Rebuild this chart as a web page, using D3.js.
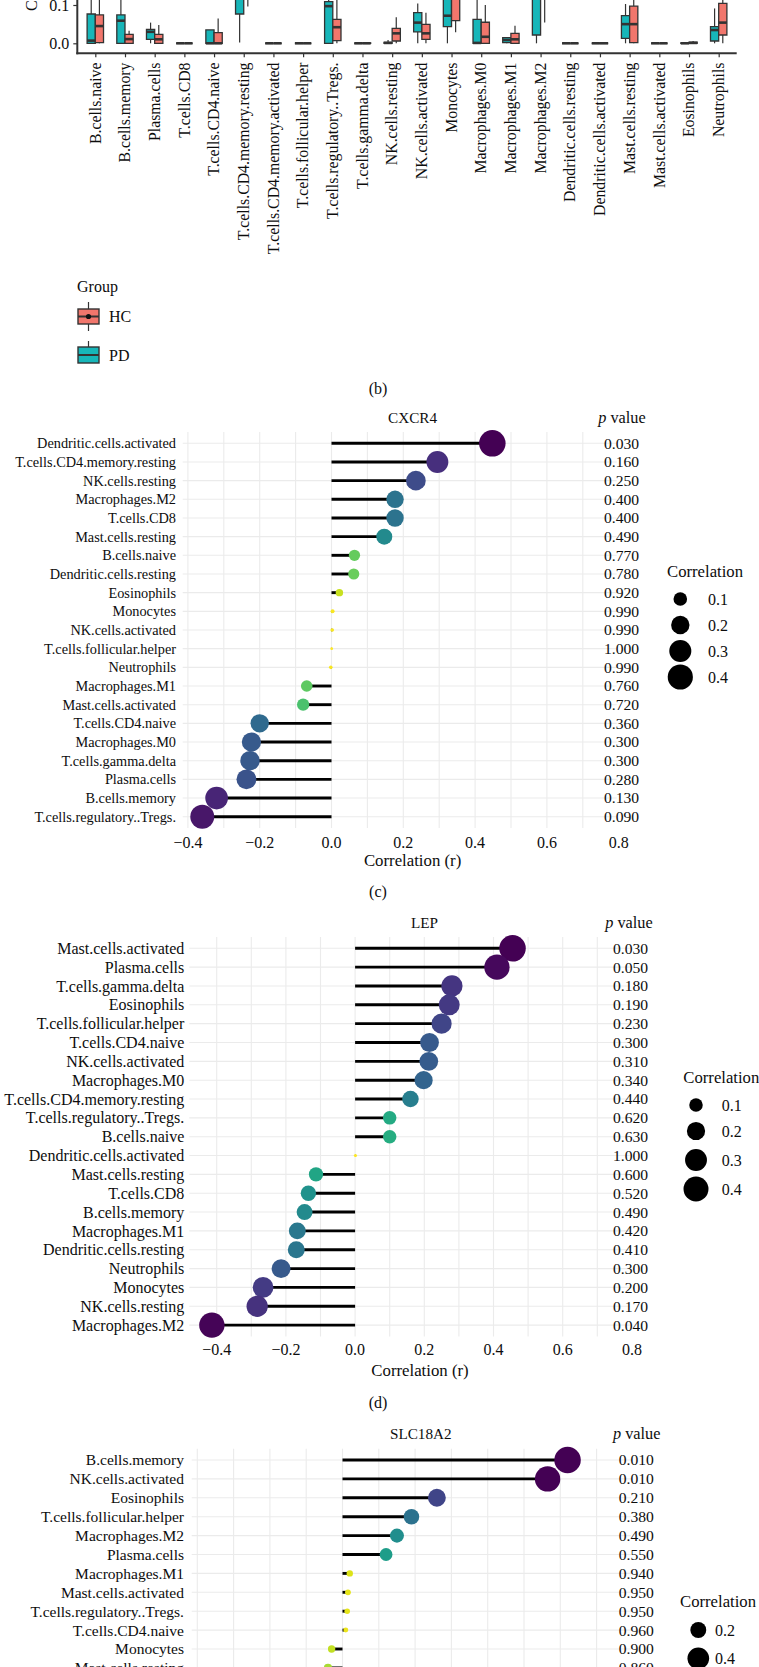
<!DOCTYPE html>
<html>
<head>
<meta charset="utf-8">
<script src="https://cdn.jsdelivr.net/npm/d3@7"></script>
<style>
  body { margin: 0; background: #ffffff; }
  svg { display: block; }
  text { font-family: "Liberation Serif", "Times New Roman", serif; fill: #0d0d0d; }
</style>
</head>
<body>
<svg id="chart" width="759" height="1667"></svg>
<script>
// ---------------- DATA ----------------
// (b) boxplot: immune cell fractions, PD vs HC
const boxCategories = ["B.cells.naive","B.cells.memory","Plasma.cells","T.cells.CD8","T.cells.CD4.naive",
  "T.cells.CD4.memory.resting","T.cells.CD4.memory.activated","T.cells.follicular.helper","T.cells.regulatory..Tregs.",
  "T.cells.gamma.delta","NK.cells.resting","NK.cells.activated","Monocytes","Macrophages.M0","Macrophages.M1",
  "Macrophages.M2","Dendritic.cells.resting","Dendritic.cells.activated","Mast.cells.resting","Mast.cells.activated",
  "Eosinophils","Neutrophils"];
const pdLow  = [0,     0,     0,      0, 0,     0.002,  0, 0, 0,      0, 0,      0,     0,      0,      0,      0,      0, 0, 0,      0, 0,     0];
const pdQ1   = [0,     0,     0.0104, 0, 0,     0.0765, 0, 0, 0,      0, 0,      0.030, 0.0435, 0,      0.0016, 0.0217, 0, 0, 0.013,  0, 0,     0.006];
const pdMed  = [0.007, 0.059, 0.030,  0, 0,     0.14,   0, 0, 0.097,  0, 0.001,  0.054, 0.072,  0.001,  0.0087, 0.15,   0, 0, 0.050,  0, 0,     0.0347];
const pdQ3   = [0.0765,0.074, 0.0365, 0, 0.035, 0.20,   0, 0, 0.1086, 0, 0.0025, 0.080, 0.13,   0.0626, 0.0146, 0.25,   0, 0, 0.072,  0, 0.001, 0.0435];
const pdHigh = [0.17,  0.14,  0.054,  0, 0.035, 0.30,   0, 0, 0.16,   0, 0.0087, 0.104, 0.20,   0.14,   0.0146, 0.40,   0, 0, 0.1026, 0, 0.002, 0.091];
const hcLow  = [0,     0,     0,      0, 0,     0.096,  0, 0, 0,      0, 0,      0,     0.029,  0,      0,      0.054,  0, 0, 0,      0, 0,     0];
const hcQ1   = [0.0016,0,     0,      0, 0,     0.14,   0, 0, 0.007,  0, 0.006,  0.0104,0.059,  0,      0,      0.15,   0, 0, 0.0016, 0, 0,     0.0217];
const hcMed  = [0.045, 0.011, 0.0104, 0, 0,     0.18,   0, 0, 0.042,  0, 0.026,  0.026, 0.12,   0.017,  0.0104, 0.20,   0, 0, 0.050,  0, 0.001, 0.054];
const hcQ3   = [0.074, 0.0235,0.0235, 0, 0.028, 0.22,   0, 0, 0.0626, 0.001, 0.039, 0.0495, 0.17, 0.055,  0.026,  0.26,   0, 0, 0.097,  0, 0.003, 0.104];
const hcHigh = [0.15,  0.033, 0.048,  0, 0.065, 0.30,   0, 0, 0.14,   0.003, 0.068, 0.080, 0.25, 0.100,  0.046,  0.35,   0, 0, 0.13,   0, 0.006, 0.13];
const groupNames = ["HC", "PD"];
const boxYTicks = [0.0, 0.1];

// (c) CXCR4
const cxcr4Cells = ["Dendritic.cells.activated","T.cells.CD4.memory.resting","NK.cells.resting","Macrophages.M2",
  "T.cells.CD8","Mast.cells.resting","B.cells.naive","Dendritic.cells.resting","Eosinophils","Monocytes",
  "NK.cells.activated","T.cells.follicular.helper","Neutrophils","Macrophages.M1","Mast.cells.activated",
  "T.cells.CD4.naive","Macrophages.M0","T.cells.gamma.delta","Plasma.cells","B.cells.memory","T.cells.regulatory..Tregs."];
const cxcr4R = [0.448,0.295,0.235,0.177,0.177,0.147,0.064,0.062,0.022,0.003,0.002,0.0005,-0.002,-0.069,-0.079,
  -0.20,-0.223,-0.227,-0.237,-0.32,-0.36];
const cxcr4P = [0.030,0.160,0.250,0.400,0.400,0.490,0.770,0.780,0.920,0.990,0.990,1.000,0.990,0.760,0.720,
  0.360,0.300,0.300,0.280,0.130,0.090];

// (d) LEP
const lepCells = ["Mast.cells.activated","Plasma.cells","T.cells.gamma.delta","Eosinophils","T.cells.follicular.helper",
  "T.cells.CD4.naive","NK.cells.activated","Macrophages.M0","T.cells.CD4.memory.resting","T.cells.regulatory..Tregs.",
  "B.cells.naive","Dendritic.cells.activated","Mast.cells.resting","T.cells.CD8","B.cells.memory","Macrophages.M1",
  "Dendritic.cells.resting","Neutrophils","Monocytes","NK.cells.resting","Macrophages.M2"];
const lepR = [0.455,0.41,0.28,0.272,0.25,0.215,0.213,0.198,0.16,0.10,0.10,0.001,-0.113,-0.135,-0.146,-0.167,
  -0.17,-0.214,-0.266,-0.283,-0.414];
const lepP = [0.030,0.050,0.180,0.190,0.230,0.300,0.310,0.340,0.440,0.620,0.630,1.000,0.600,0.520,0.490,0.420,
  0.410,0.300,0.200,0.170,0.040];

// (e) SLC18A2 (visible rows)
const slcCells = ["B.cells.memory","NK.cells.activated","Eosinophils","T.cells.follicular.helper","Macrophages.M2",
  "Plasma.cells","Macrophages.M1","Mast.cells.activated","T.cells.regulatory..Tregs.","T.cells.CD4.naive",
  "Monocytes","Mast.cells.resting"];
const slcR = [0.62,0.565,0.26,0.19,0.15,0.12,0.02,0.015,0.013,0.009,-0.03,-0.04];
const slcP = [0.010,0.010,0.210,0.380,0.490,0.550,0.940,0.950,0.950,0.960,0.900,0.860];

const corrTicks = [-0.4,-0.2,0.0,0.2,0.4,0.6,0.8];
const sizeBreaksA = [0.1,0.2,0.3,0.4];
const sizeBreaksB = [0.2,0.4];

// ---------------- DRAW ----------------
const svg = d3.select("#chart");
svg.append("rect").attr("width",759).attr("height",1667).attr("fill","#ffffff");
const AX = "#333333";

// ===== (b) boxplot =====
const bx = d3.scalePoint().domain(boxCategories).range([77.5, 736.5]).padding(0.6);
const by = d3.scaleLinear().domain([0, 0.1]).range([43.3, 5.0]);
const boxW = 8.2;
const groups = [
  {fill:"#17B6B9", off:-boxW, low:pdLow, q1:pdQ1, med:pdMed, q3:pdQ3, high:pdHigh},
  {fill:"#F1766C", off:0,     low:hcLow, q1:hcQ1, med:hcMed, q3:hcQ3, high:hcHigh}
];
const gb = svg.append("g");
groups.forEach(gr => {
  const cx = c => bx(c) + gr.off + boxW/2;
  gb.selectAll(null).data(boxCategories).join("line")
    .attr("x1", cx).attr("x2", cx)
    .attr("y1", (c,i) => by(gr.high[i])).attr("y2", (c,i) => by(gr.q3[i]))
    .attr("stroke", AX).attr("stroke-width", 1.2);
  gb.selectAll(null).data(boxCategories).join("line")
    .attr("x1", cx).attr("x2", cx)
    .attr("y1", (c,i) => by(gr.q1[i])).attr("y2", (c,i) => by(gr.low[i]))
    .attr("stroke", AX).attr("stroke-width", 1.2);
  gb.selectAll(null).data(boxCategories).join("path")
    .attr("d", (c,i) => {
      const x0 = bx(c) + gr.off, x1 = x0 + boxW;
      const y0 = by(gr.q3[i]), y1 = by(gr.q1[i]);
      return `M${x0},${y1}H${x1}V${y0}H${x0}Z`;
    })
    .attr("fill", gr.fill).attr("stroke", AX).attr("stroke-width", 1.3);
  gb.selectAll(null).data(boxCategories).join("line")
    .attr("x1", c => bx(c) + gr.off).attr("x2", c => bx(c) + gr.off + boxW)
    .attr("y1", (c,i) => by(gr.med[i])).attr("y2", (c,i) => by(gr.med[i]))
    .attr("stroke", AX).attr("stroke-width", 2.6);
});
svg.append("line").attr("x1",77.3).attr("x2",77.3).attr("y1",-5).attr("y2",54.3).attr("stroke",AX).attr("stroke-width",2);
svg.append("line").attr("x1",76.3).attr("x2",736.7).attr("y1",53.3).attr("y2",53.3).attr("stroke",AX).attr("stroke-width",2);
const yAx = svg.append("g").attr("transform","translate(77.3,0)")
  .call(d3.axisLeft(by).tickValues(boxYTicks).tickFormat(d3.format(".1f")).tickSize(4).tickPadding(4));
yAx.select(".domain").remove();
yAx.selectAll("line").attr("stroke",AX).attr("stroke-width",1.2);
yAx.selectAll("text").attr("font-family","'Liberation Serif','Times New Roman',serif").attr("font-size",16).attr("fill","#0d0d0d");
const xAx = svg.append("g").attr("transform","translate(0,53.3)")
  .call(d3.axisBottom(bx).tickSize(4).tickFormat(""));
xAx.select(".domain").remove();
xAx.selectAll("line").attr("stroke",AX).attr("stroke-width",1.2);
svg.append("g").selectAll("text").data(boxCategories).join("text")
  .attr("transform", c => `translate(${bx(c)},62.5) rotate(-90)`)
  .attr("text-anchor","end").attr("dy","0.33em")
  .attr("font-size",15.8).text(c => c);
svg.append("text").attr("transform","translate(37,11) rotate(-90)")
  .attr("text-anchor","start").attr("font-size",16).text("Cell proportion");

// legend
svg.append("text").attr("x",77).attr("y",292).attr("font-size",16).text("Group");
const legKeys = [
  {name: groupNames[0], fill:"#F1766C", yTop:302, y0:309, y1:324, yBot:331, dot:true},
  {name: groupNames[1], fill:"#17B6B9", yTop:341, y0:347, y1:363, yBot:null, dot:false}
];
legKeys.forEach(k => {
  const kx0 = 78, kx1 = 99, kc = (kx0+kx1)/2, km = (k.y0+k.y1)/2;
  svg.append("line").attr("x1",kc).attr("x2",kc).attr("y1",k.yTop).attr("y2",k.y0).attr("stroke",AX).attr("stroke-width",1.2);
  if (k.yBot) svg.append("line").attr("x1",kc).attr("x2",kc).attr("y1",k.y1).attr("y2",k.yBot).attr("stroke",AX).attr("stroke-width",1.2);
  svg.append("rect").attr("x",kx0).attr("y",k.y0).attr("width",kx1-kx0).attr("height",k.y1-k.y0)
    .attr("fill",k.fill).attr("stroke",AX).attr("stroke-width",1.4);
  svg.append("line").attr("x1",kx0).attr("x2",kx1).attr("y1",km).attr("y2",km).attr("stroke",AX).attr("stroke-width",2);
  if (k.dot) svg.append("circle").attr("cx",kc).attr("cy",km).attr("r",2.6).attr("fill","#111");
  svg.append("text").attr("x",109).attr("y",km).attr("dy","0.35em").attr("font-size",16).text(k.name);
});
svg.append("text").attr("x",378).attr("y",394).attr("text-anchor","middle").attr("font-size",16).text("(b)");

// ===== lollipop panels =====
function lollipop(cfg) {
  const g = svg.append("g");
  const x = d3.scaleLinear().domain([-0.4, 0.8]).range([cfg.xA, cfg.xB]);
  const y = d3.scalePoint().domain(cfg.cells)
    .range([cfg.row0, cfg.row0 + cfg.rowStep * (cfg.cells.length - 1)]);
  const color = d3.scaleSequential(d3.interpolateViridis).domain(cfg.pDomain);
  const rad = d3.scaleSqrt().domain([0, cfg.sizeMax]).range([1, 13.25]);
  const grid = d3.range(-4, 8).map(k => k / 10);
  g.selectAll(null).data(grid).join("line")
    .attr("x1", d => x(d)).attr("x2", d => x(d))
    .attr("y1", cfg.panelTop).attr("y2", cfg.panelBottom)
    .attr("stroke", "#ebebeb").attr("stroke-width", 1.1);
  g.selectAll(null).data(cfg.cells).join("line")
    .attr("x1", cfg.panelLeft).attr("x2", x(0.8) - 2)
    .attr("y1", d => y(d)).attr("y2", d => y(d))
    .attr("stroke", "#ebebeb").attr("stroke-width", 1.1);
  g.selectAll(null).data(cfg.cells).join("line")
    .attr("x1", x(0)).attr("x2", (d,i) => x(cfg.r[i]))
    .attr("y1", d => y(d)).attr("y2", d => y(d))
    .attr("stroke", "#000").attr("stroke-width", 2.9);
  g.selectAll(null).data(cfg.cells).join("circle")
    .attr("cx", (d,i) => x(cfg.r[i])).attr("cy", d => y(d))
    .attr("r", (d,i) => rad(Math.abs(cfg.r[i])))
    .attr("fill", (d,i) => color(cfg.p[i]));
  g.selectAll(null).data(cfg.cells).join("text")
    .attr("x", cfg.labelRight).attr("y", d => y(d)).attr("dy", "0.35em")
    .attr("text-anchor", "end").attr("font-size", cfg.labelFont).text(d => d);
  g.selectAll(null).data(cfg.cells).join("text")
    .attr("x", cfg.pX).attr("y", d => y(d)).attr("dy", "0.35em")
    .attr("text-anchor", "middle").attr("font-size", 15.6)
    .text((d,i) => d3.format(".3f")(cfg.p[i]));
  g.append("text").attr("x", cfg.titleX).attr("y", cfg.titleY).attr("text-anchor","middle")
    .attr("font-size", 15.2).text(cfg.title);
  const ph = g.append("text").attr("x", cfg.pHeadX).attr("y", cfg.titleY).attr("text-anchor","middle").attr("font-size", 16.3);
  ph.append("tspan").attr("font-style","italic").text("p");
  ph.append("tspan").text(" value");
  if (cfg.tickY) {
    g.selectAll(null).data(corrTicks).join("text")
      .attr("x", d => x(d)).attr("y", cfg.tickY).attr("text-anchor","middle")
      .attr("font-size", 16).text(d => d3.format(".1f")(d));
    g.append("text").attr("x", cfg.axisTitleX).attr("y", cfg.axisTitleY).attr("text-anchor","middle")
      .attr("font-size", 16.8).text("Correlation (r)");
    g.append("text").attr("x", 378).attr("y", cfg.tagY).attr("text-anchor","middle")
      .attr("font-size", 16).text(cfg.tag);
  }
  g.append("text").attr("x", cfg.legX).attr("y", cfg.legTitleY).attr("font-size", 16.7).text("Correlation");
  g.selectAll(null).data(cfg.sizeBreaks).join("circle")
    .attr("cx", cfg.legCx).attr("cy", (d,i) => cfg.legCy[i]).attr("r", d => rad(d)).attr("fill", "#000");
  g.selectAll(null).data(cfg.sizeBreaks).join("text")
    .attr("x", cfg.legLabelX).attr("y", (d,i) => cfg.legCy[i]).attr("dy","0.35em")
    .attr("font-size", 16).text(d => d3.format(".1f")(d));
}

lollipop({
  cells: cxcr4Cells, r: cxcr4R, p: cxcr4P, title: "CXCR4", tag: "(c)",
  xA: 187.9, xB: 618.7, row0: 443.3, rowStep: 18.67,
  panelTop: 432, panelBottom: 828, panelLeft: 182.7,
  pDomain: [0.03, 1.0], sizeMax: d3.max(cxcr4R, v => Math.abs(v)),
  labelRight: 176, labelFont: 14.3, pX: 621.5,
  titleX: 412.6, titleY: 422.7, pHeadX: 622,
  tickY: 848, axisTitleX: 412.6, axisTitleY: 866, tagY: 897,
  legX: 667, legTitleY: 576.7, legCx: 680.3, legCy: [599, 625, 651, 677], legLabelX: 708,
  sizeBreaks: sizeBreaksA
});

lollipop({
  cells: lepCells, r: lepR, p: lepP, title: "LEP", tag: "(d)",
  xA: 216.7, xB: 631.9, row0: 948.3, rowStep: 18.84,
  panelTop: 937, panelBottom: 1336.5, panelLeft: 189.3,
  pDomain: [0.03, 1.0], sizeMax: d3.max(lepR, v => Math.abs(v)),
  labelRight: 184.3, labelFont: 16, pX: 630.5,
  titleX: 424.5, titleY: 928, pHeadX: 629,
  tickY: 1355, axisTitleX: 420, axisTitleY: 1376, tagY: 1408,
  legX: 683.3, legTitleY: 1083, legCx: 696, legCy: [1105, 1131, 1160, 1189], legLabelX: 721.7,
  sizeBreaks: sizeBreaksA
});

lollipop({
  cells: slcCells, r: slcR, p: slcP, title: "SLC18A2", tag: "",
  xA: 197.3, xB: 632.9, row0: 1460, rowStep: 18.9,
  panelTop: 1448.7, panelBottom: 1700, panelLeft: 191.7,
  pDomain: [0.01, 0.99], sizeMax: d3.max(slcR, v => Math.abs(v)),
  labelRight: 184, labelFont: 15.5, pX: 636.3,
  titleX: 420.8, titleY: 1439, pHeadX: 636.7,
  tickY: null,
  legX: 680, legTitleY: 1606.7, legCx: 698.3, legCy: [1630, 1658.3], legLabelX: 715,
  sizeBreaks: sizeBreaksB
});
</script>
</body>
</html>
